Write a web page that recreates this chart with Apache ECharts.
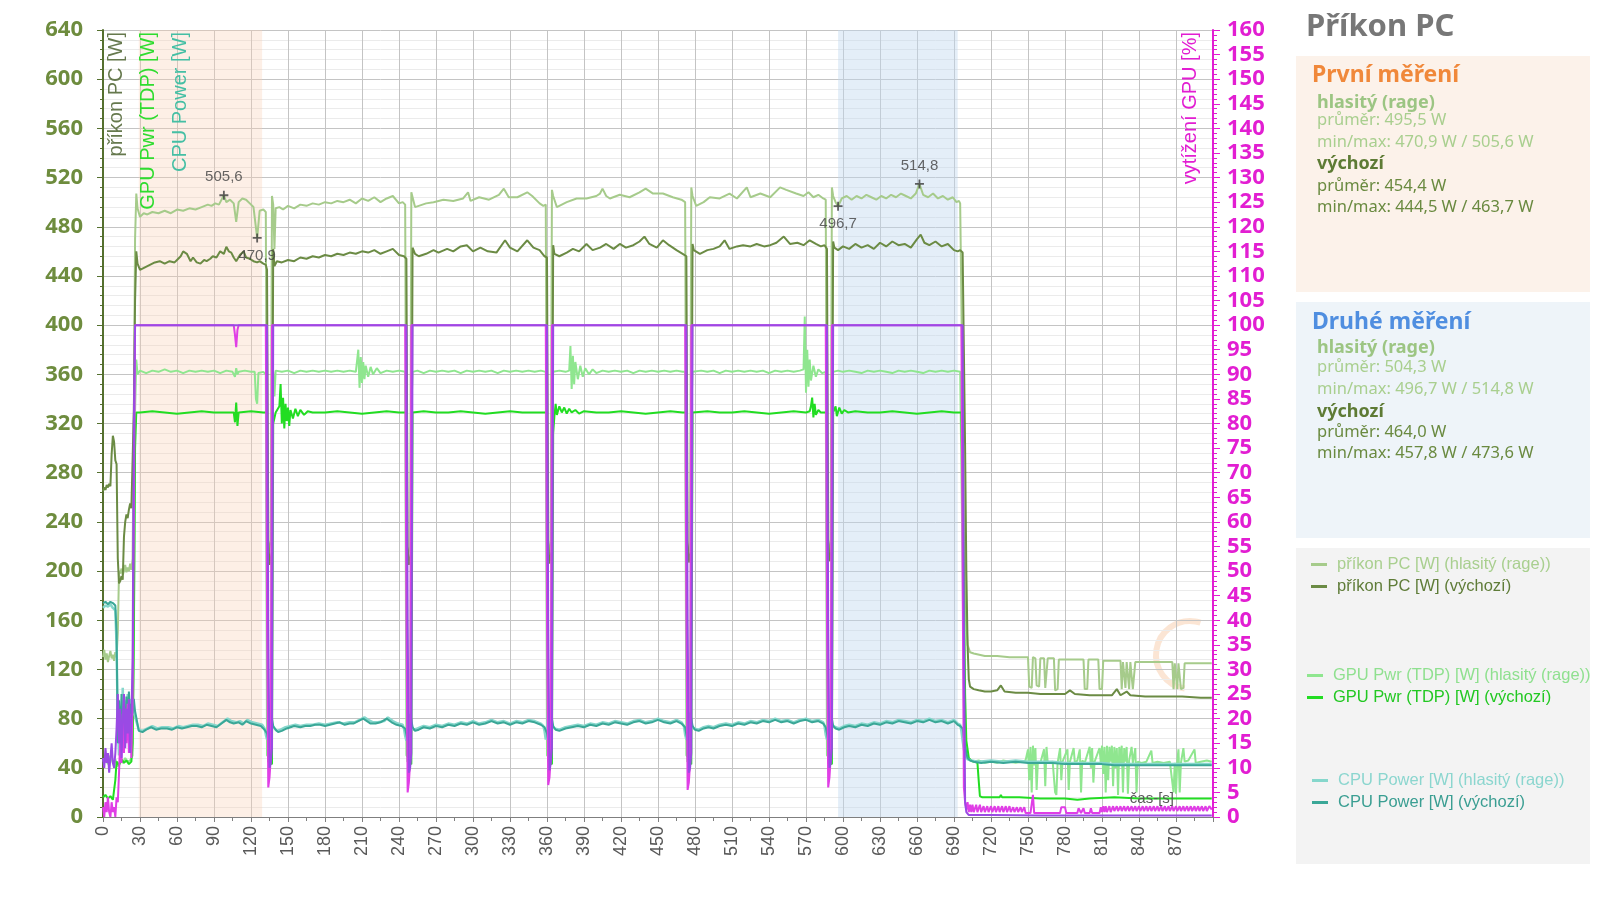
<!DOCTYPE html>
<html><head><meta charset="utf-8">
<script src="https://cdn.jsdelivr.net/npm/echarts@6/dist/echarts.min.js"></script>
<style>html,body{margin:0;padding:0;background:#fff}#c{width:1600px;height:902px}</style>
</head><body><div id="c"></div>
<script>
// ---- data (time [s], value) ----
const pcRage = [[0,130],[1,136],[2,128],[3,133],[4,126],[5,131],[6,135],[7,129],[8,132],[9,127],[10,134],[11,130],[12,150],[13,200],[14,198],[15,202],[16,197],[17,200],[18,205],[19,199],[20,203],[21,200],[22,206],[23,201],[24,210],[25,320],[26,470],[27,507],[28,495],[30,488],[33,491],[36,490],[40,492],[45,491],[50,493],[55,491],[60,494],[65,493],[70,495],[75,494],[80,496],[85,498],[88,497],[91,499],[94,498],[98,505.6],[100,500],[103,502],[106,499],[108,484],[110,500],[113,503],[116,502],[119,499],[122,496],[125,470.9],[127,493],[130,494],[132,492],[133,230],[134,215],[135,220],[136,225],[137,505],[138,498],[139,462],[140,495],[143,496],[146,494],[150,497],[155,495],[160,498],[165,497],[170,499],[175,498],[180,500],[185,499],[190,501],[195,500],[200,502],[205,499],[210,503],[215,501],[220,504],[225,500],[230,503],[235,505],[240,499],[243,500],[245,498],[246,225],[247,210],[248,215],[249,220],[250,508],[251,504],[253,496],[256,497],[262,499],[268,500],[276,502],[284,501],[292,503],[296,508],[298,501],[305,504],[313,502],[321,506],[325,511],[329,504],[336,504],[344,508],[348,505],[354,499],[357,497],[359,498],[360,230],[361,212],[362,218],[363,225],[364,510],[365,505],[368,496],[376,500],[384,503],[392,503],[400,505],[403,507],[405,511],[408,505],[411,503],[419,506],[427,504],[435,508],[440,511],[446,507],[454,507],[462,504],[469,502],[472,500],[473,228],[474,210],[475,216],[476,222],[477,512],[478,505],[481,497],[487,500],[492,504],[500,503],[508,507],[514,503],[522,512],[525,504],[533,507],[541,504],[549,512],[554,510],[562,507],[568,505],[572,508],[576,504],[580,506],[584,503],[586,502],[587,232],[588,214],[589,218],[590,225],[591,512],[592,505],[594,500],[596,496.7],[599,503],[603,505],[607,502],[611,505],[615,503],[619,506],[623,504],[627,502],[631,505],[635,503],[639,506],[643,504],[647,507],[651,505],[655,503],[659,507],[662,514.8],[665,506],[669,504],[673,507],[677,503],[681,505],[685,502],[689,504],[692,500],[694,501],[695,499],[696,420],[697,330],[698,250],[699,200],[700,160],[701,140],[703,134],[706,133],[715,131],[725,131],[735,130],[745,130],[750,130],[751,106],[753,105],[754,130],[756,129],[757,107],[759,106],[760,129],[763,129],[764,105],[765,106],[766,129],[771,129],[772,103],[774,104],[775,128],[785,128],[795,128],[796,104],[798,104],[799,128],[807,128],[808,104],[810,104],[811,127],[820,127],[825,127],[826,104],[827,126],[829,105],[830,126],[832,104],[833,126],[835,104],[837,126],[845,126],[855,126],[867,126],[868,104],[869,125],[871,104],[872,125],[874,104],[876,105],[877,125],[885,125],[899,125]];

const pcDef = [[0,265],[1,268],[2,266],[3,270],[4,268],[5,271],[6,269],[7,295],[8,310],[9,305],[10,290],[11,287],[12,210],[13,190],[14,192],[15,196],[16,193],[17,228],[18,240],[19,246],[20,243],[21,250],[22,255],[23,251],[24,290],[25,330],[26,420],[27,460],[28,450],[30,445],[34,447],[38,449],[42,451],[46,452],[50,450],[54,452],[58,451],[60,453],[63,456],[65,460],[68,458],[71,452],[73,455],[76,451],[79,450],[82,453],[84,452],[87,454],[89,456],[92,455],[95,460],[98,458],[100,463.7],[102,460],[104,459],[106,455],[108,452],[111,457],[114,460],[116,455],[119,454],[122,452],[125,451],[127,452],[130,450],[132,449],[133,445],[134,225],[135,205],[136,210],[137,215],[138,462],[139,448],[141,452],[145,451],[150,453],[155,452],[160,455],[165,454],[170,456],[175,455],[180,457],[185,456],[190,458],[195,457],[200,459],[205,458],[210,460],[215,459],[220,461],[225,458],[230,460],[235,462],[240,457],[244,456],[246,454],[247,220],[248,205],[249,210],[250,216],[251,463],[253,458],[256,456],[262,458],[268,461],[272,459],[279,462],[284,460],[290,464],[295,465],[300,460],[306,463],[312,460],[319,459],[326,469],[330,463],[336,460],[344,469],[349,463],[354,461],[358,456],[360,455],[361,222],[362,206],[363,212],[364,218],[365,465],[366,458],[370,456],[376,459],[381,462],[386,460],[392,466],[397,461],[403,463],[408,466],[414,462],[419,466],[424,463],[430,465],[435,468],[439,472],[443,466],[449,463],[454,469],[459,465],[465,461],[470,458],[473,456],[474,224],[475,207],[476,212],[477,218],[478,466],[479,461],[484,458],[490,461],[495,462],[500,464],[504,469],[508,462],[514,464],[519,465],[525,464],[530,466],[536,464],[541,465],[546,467],[552,472],[557,466],[563,467],[568,465],[573,469],[578,466],[582,464],[585,465],[587,462],[588,226],[589,208],[590,213],[591,220],[592,468],[593,463],[596,461],[600,464],[605,462],[610,466],[615,463],[620,465],[625,462],[630,467],[635,464],[640,468],[645,465],[650,466],[655,463],[660,470],[663,473.6],[666,467],[670,465],[675,468],[680,464],[685,466],[690,461],[693,460],[695,461],[697,459],[698,380],[699,300],[700,200],[701,140],[702,112],[703,106],[706,104],[710,103],[715,102],[720,102],[725,103],[728,107],[731,102],[740,101],[750,101],[760,100],[770,100],[780,100],[784,103],[788,100],[800,99],[810,99],[818,99],[822,104],[825,99],[830,102],[833,99],[845,98],[860,98],[875,98],[890,97],[899,97]];

const gpuRage = [[0,45],[2,48],[4,43],[6,50],[8,44],[10,47],[12,41],[14,46],[16,44],[18,48],[20,45],[22,46],[24,50],[25,130],[26,330],[27,372],[28,360],[30,363],[35,361],[40,363],[45,362],[50,364],[55,362],[60,363],[65,361],[70,363],[75,362],[80,363],[85,362],[90,363],[95,361],[100,363],[105,362],[107,358],[108,365],[109,360],[110,362],[115,363],[120,362],[123,362],[124,340],[125,336],[126,361],[130,362],[132,360],[133,50],[136,48],[137,330],[138,362],[139,342],[140,363],[145,362],[150,363],[155,361],[160,363],[165,362],[170,363],[175,362],[180,363],[185,362],[190,363],[195,362],[200,363],[205,362],[207,380],[208,349],[209,374],[210,353],[211,370],[212,356],[213,367],[215,358],[217,366],[219,360],[222,365],[225,361],[230,363],[235,362],[240,363],[245,362],[246,50],[249,48],[250,330],[251,362],[255,363],[260,361],[265,363],[270,362],[275,363],[280,362],[285,363],[290,361],[295,363],[300,362],[305,363],[310,362],[315,363],[320,361],[325,363],[330,362],[335,363],[340,362],[345,363],[350,362],[355,363],[359,362],[360,50],[363,48],[364,330],[365,362],[370,363],[375,362],[378,363],[379,383],[380,348],[381,375],[382,352],[383,370],[385,356],[387,367],[389,358],[391,365],[394,360],[397,364],[400,361],[405,363],[410,362],[415,363],[420,362],[425,363],[430,361],[435,363],[440,362],[445,363],[450,362],[455,363],[460,362],[465,363],[470,362],[472,362],[473,50],[476,48],[477,330],[478,362],[485,363],[490,362],[495,363],[500,361],[505,363],[510,362],[515,363],[520,362],[525,363],[530,362],[535,363],[540,361],[545,363],[550,362],[555,363],[560,362],[565,363],[568,364],[569,407],[570,345],[571,380],[572,350],[573,372],[574,355],[576,367],[578,358],[580,364],[583,361],[586,362],[587,50],[590,48],[591,330],[592,362],[596,363],[600,362],[605,363],[610,362],[615,361],[620,363],[625,362],[630,363],[635,362],[640,361],[645,363],[650,362],[655,363],[660,362],[665,361],[670,363],[675,362],[680,363],[685,362],[690,363],[695,362],[696,362],[697,200],[698,90],[699,62],[700,52],[702,47],[705,45],[710,46],[715,44],[720,45],[725,44],[730,46],[735,45],[740,44],[745,45],[748,46],[750,55],[751,30],[752,57],[753,20],[754,58],[755,42],[756,56],[757,22],[758,45],[760,44],[763,55],[764,25],[765,57],[766,44],[770,45],[772,20],[773,18],[774,44],[776,56],[777,30],[778,45],[782,55],[783,22],[784,45],[787,56],[788,44],[790,46],[792,55],[793,20],[794,46],[796,44],[800,57],[801,40],[802,56],[803,28],[804,45],[808,56],[809,44],[810,58],[811,35],[812,57],[813,20],[814,58],[815,30],[816,57],[817,45],[818,58],[819,25],[820,57],[821,40],[822,56],[823,18],[824,57],[825,44],[826,58],[827,20],[828,56],[829,45],[830,57],[831,19],[832,46],[834,57],[835,44],[837,56],[838,20],[839,45],[842,44],[846,45],[850,54],[851,44],[855,45],[860,44],[865,45],[868,20],[869,44],[870,19],[871,45],[872,55],[873,20],[874,44],[876,56],[877,45],[880,46],[885,55],[886,44],[890,45],[895,46],[899,45]];

const gpuDef = [[0,16],[2,18],[4,15],[6,17],[8,14],[10,30],[11,45],[13,42],[15,47],[17,44],[19,46],[21,43],[23,45],[24,60],[25,150],[26,300],[27,329],[30,329],[40,330],[50,329],[60,328],[70,329],[80,330],[90,329],[100,329],[106,329],[107,321],[108,337],[109,318],[110,329],[120,330],[130,329],[133,329],[134,45],[137,43],[138,320],[140,329],[143,334],[144,352],[145,320],[146,341],[147,316],[148,336],[149,322],[150,333],[151,318],[152,331],[154,324],[156,332],[158,326],[160,331],[163,327],[166,330],[170,329],[180,329],[190,330],[200,329],[210,328],[220,329],[230,330],[240,329],[246,329],[247,45],[250,43],[251,329],[260,330],[270,329],[280,329],[290,330],[300,329],[310,328],[320,329],[330,330],[340,329],[350,329],[360,329],[361,45],[364,43],[365,312],[366,326],[367,336],[368,327],[370,334],[372,329],[374,333],[376,328],[378,332],[380,329],[383,331],[386,328],[390,330],[400,329],[410,329],[420,330],[430,329],[440,328],[450,329],[460,330],[470,329],[473,329],[474,45],[477,43],[478,329],[490,330],[500,329],[510,329],[520,330],[530,329],[540,328],[550,329],[560,330],[570,329],[573,330],[574,334],[575,341],[576,325],[577,336],[578,327],[580,331],[582,329],[587,329],[588,45],[591,43],[592,329],[594,334],[595,326],[597,333],[599,328],[601,331],[604,329],[610,330],[620,329],[630,329],[640,330],[650,329],[660,328],[670,329],[680,330],[690,329],[696,329],[697,329],[698,200],[699,100],[700,62],[702,48],[704,46],[706,45],[709,44],[710,30],[711,17],[713,16],[720,16],[727,16],[728,18],[729,16],[741,16],[742,17],[743,16],[760,15],[780,15],[790,14],[800,15],[820,16],[840,15],[860,15],[880,15],[899,15]];

const cpuRage = [[0,170],[2,172],[4,171],[6,173],[8,170],[10,168],[11,140],[12,75],[13,50],[14,90],[15,58],[16,105],[17,66],[18,95],[19,72],[20,100],[21,78],[22,96],[23,82],[24,90],[25,85],[26,82],[27,78],[29,71],[32,70],[36,72],[40,74],[44,72],[48,73],[53,73],[57,72],[61,74],[65,73],[69,74],[73,75],[77,75],[81,74],[85,76],[89,75],[93,74],[97,77],[101,80],[104,78],[108,77],[111,78],[114,76],[117,79],[121,77],[125,76],[129,75],[131,72],[132,67],[133,63],[134,72],[135,86],[136,80],[137,74],[139,72],[141,70],[144,71],[148,73],[152,74],[156,75],[160,74],[165,75],[170,75],[175,76],[180,75],[185,76],[190,77],[195,76],[200,77],[204,77],[208,79],[212,81],[215,79],[219,77],[223,77],[228,78],[231,81],[235,78],[239,76],[243,75],[244,72],[245,66],[246,62],[247,72],[248,86],[249,80],[250,74],[252,71],[255,72],[260,74],[265,73],[270,75],[275,74],[280,76],[285,75],[290,77],[295,76],[300,78],[305,76],[310,77],[315,79],[320,77],[325,78],[330,76],[335,78],[340,77],[345,79],[350,78],[355,76],[357,74],[358,70],[359,63],[360,72],[361,86],[362,80],[363,75],[366,72],[370,71],[375,73],[380,74],[385,75],[390,74],[395,76],[400,75],[405,77],[410,76],[415,78],[420,77],[425,76],[430,78],[435,79],[440,77],[445,78],[450,80],[455,78],[460,77],[465,79],[469,77],[471,74],[472,67],[473,63],[474,72],[475,86],[476,80],[477,75],[479,72],[483,71],[487,73],[491,74],[495,73],[500,75],[505,76],[510,75],[515,77],[520,76],[525,78],[530,77],[535,79],[540,78],[545,80],[550,78],[555,79],[560,77],[565,79],[570,80],[575,78],[580,79],[584,77],[585,74],[586,67],[587,63],[588,72],[589,86],[590,80],[591,75],[594,73],[597,72],[601,74],[605,75],[610,74],[615,76],[620,75],[625,77],[630,76],[635,78],[640,77],[645,79],[650,78],[655,77],[660,79],[665,78],[670,80],[675,78],[680,79],[685,77],[690,79],[693,76],[695,75],[696,70],[697,62],[698,55],[699,50],[701,47],[704,46],[710,45],[720,46],[730,45],[740,46],[750,45],[760,45],[770,45],[780,44],[790,44],[800,44],[810,44],[820,43],[830,43],[840,43],[850,43],[860,43],[870,43],[880,43],[890,43],[899,43]];

const cpuDef = [[0,174],[2,175],[4,173],[6,175],[8,174],[10,172],[11,150],[12,60],[13,95],[14,55],[15,100],[16,62],[17,88],[18,70],[19,98],[20,75],[21,102],[22,80],[23,92],[24,84],[25,96],[26,86],[27,81],[29,70],[32,69],[35,71],[39,73],[43,71],[47,72],[52,72],[56,71],[60,73],[64,72],[68,73],[72,74],[76,74],[80,73],[84,75],[88,74],[92,73],[96,76],[100,79],[103,77],[106,76],[110,77],[113,75],[116,78],[120,76],[124,75],[128,74],[131,71],[133,68],[134,62],[135,70],[136,85],[137,80],[138,74],[140,71],[142,69],[145,70],[149,72],[152,73],[155,74],[160,73],[164,74],[168,74],[172,75],[176,75],[180,74],[184,75],[188,76],[192,77],[196,75],[200,76],[203,76],[207,78],[211,80],[214,78],[217,76],[221,76],[225,77],[230,80],[234,77],[238,75],[242,74],[245,72],[246,67],[247,62],[248,70],[249,84],[250,79],[251,73],[253,70],[256,71],[260,73],[265,72],[270,74],[275,73],[280,75],[285,74],[290,76],[295,75],[300,77],[305,75],[310,76],[315,78],[320,76],[325,77],[330,75],[335,77],[340,76],[345,78],[350,77],[355,75],[358,73],[360,68],[361,62],[362,70],[363,85],[364,80],[365,74],[367,71],[370,70],[375,72],[380,73],[385,74],[390,73],[395,75],[400,74],[405,76],[410,75],[415,77],[420,76],[425,75],[430,77],[435,78],[440,76],[445,77],[450,79],[455,77],[460,76],[465,78],[469,76],[472,73],[473,67],[474,62],[475,70],[476,85],[477,80],[478,74],[480,71],[483,70],[487,72],[491,73],[495,72],[500,74],[505,75],[510,74],[515,76],[520,75],[525,77],[530,76],[535,78],[540,77],[545,79],[550,77],[555,78],[560,76],[565,78],[570,79],[575,77],[580,78],[584,76],[586,73],[587,68],[588,62],[589,70],[590,85],[591,80],[592,74],[594,72],[597,71],[601,73],[605,74],[610,73],[615,75],[620,74],[625,76],[630,75],[635,77],[640,76],[645,78],[650,77],[655,76],[660,78],[665,77],[670,79],[675,77],[680,78],[685,76],[690,78],[693,75],[695,74],[697,72],[698,65],[699,58],[700,52],[701,48],[703,46],[706,45],[712,44],[720,45],[730,44],[740,45],[750,44],[760,44],[770,44],[780,43],[790,43],[800,43],[810,43],[820,42],[830,42],[840,42],[850,42],[860,42],[870,42],[880,42],[890,42],[899,42]];

// GPU utilisation [%]
const useRage = [[0,2],[1,0],[2,3],[3,1],[4,4],[5,1],[6,0],[7,3],[8,1],[9,2],[10,0],[11,4],[12,3],[13,9],[14,16],[15,11],[16,21],[17,13],[18,22],[19,15],[20,23],[21,13],[22,21],[23,12],[24,24],[25,60],[26,100],[106,100],[107,98],[108,95.5],[109,99],[110,100],[132,100],[133,40],[134,6],[135,8],[136,12],[137,100],[245,100],[246,40],[247,5],[248,7],[249,11],[250,100],[359,100],[360,40],[361,6.5],[362,8],[363,12],[364,100],[472,100],[473,40],[474,5.5],[475,7],[476,11],[477,100],[586,100],[587,40],[588,6],[589,8],[590,12],[591,100],[696,100],[697,50],[698,6],[699,3],[700,1.5],[701,3],[702,1],[703,2.5],[704,1],[705,2.5],[706,1],[708,2.5],[709,1],[711,2.5],[712,1],[714,2.2],[715,1],[717,2.2],[718,1],[720,2.2],[721,1],[723,2.2],[724,1],[726,2.2],[727,1],[729,2.2],[730,1],[732,2.2],[733,1],[735,2.2],[736,1],[738,2],[739,1],[741,2],[742,1],[744,2],[745,1],[747,2],[748,0.8],[752,0.8],[753,1],[754,4.5],[755,0.8],[760,0.8],[770,0.8],[776,0.8],[777,2],[780,2],[781,0.8],[790,0.8],[791,1.8],[793,0.8],[795,1.8],[796,0.8],[800,0.8],[801,1.8],[802,0.8],[808,0.8],[809,2],[810,1],[811,2.2],[812,1],[813,2.2],[814,1],[816,2.2],[817,1],[819,2.2],[820,1.2],[822,2.2],[823,1.2],[825,2.2],[826,1.2],[828,2.2],[829,1.2],[831,2.2],[832,1.2],[834,2.2],[835,1.2],[837,2.2],[838,1.2],[840,2.2],[841,1.2],[843,2.2],[844,1.2],[846,2.2],[847,1.2],[849,2.2],[850,1.2],[852,2.2],[853,1.2],[855,2.2],[856,1.2],[858,2.2],[859,1.2],[861,2.2],[862,1.2],[864,2.2],[865,1.2],[867,2.2],[868,1.2],[870,2.2],[871,1.2],[873,2.2],[874,1.2],[876,2.2],[877,1.2],[879,2.2],[880,1.2],[882,2.2],[883,1.2],[885,2.2],[886,1.2],[888,2.2],[889,1.2],[891,2.2],[892,1.2],[894,2.2],[895,1.2],[897,2.2],[899,1.5]];

const useDef = [[0,12],[1,10],[2,14],[3,11],[4,13],[5,9],[6,12],[7,15],[8,11],[9,10],[10,13],[11,18],[12,25],[13,15],[14,22],[15,12],[16,20],[17,25],[18,14],[19,22],[20,17],[21,24],[22,13],[23,20],[24,32],[25,80],[26,100],[133,100],[134,40],[135,10],[136,11],[137,14],[138,100],[246,100],[247,40],[248,9],[249,10],[250,13],[251,100],[360,100],[361,40],[362,9.5],[363,11],[364,14],[365,100],[473,100],[474,40],[475,9],[476,10],[477,13],[478,100],[587,100],[588,40],[589,10],[590,11],[591,14],[592,100],[697,100],[698,40],[699,3],[700,1],[702,0.4],[720,0.4],[760,0.3],[800,0.3],[840,0.3],[899,0.3]];

// measurement windows [s]
const bandStart = [29, 596];
const bandEnd = [129, 693];

// min / max annotations of "příkon PC (hlasitý)"
const extremeT = [98, 125, 596, 662];
const extremeV = [505.6, 470.9, 496.7, 514.8];

// axis ranges
const xMax = 900, xStep = 30;
const yMax = 640, yStep = 40;
const y2Max = 160, y2Step = 5;

const names = {
  pcRage: 'příkon PC [W] (hlasitý (rage))',
  pcDef: 'příkon PC [W] (výchozí)',
  gpuRage: 'GPU Pwr (TDP) [W] (hlasitý (rage))',
  gpuDef: 'GPU Pwr (TDP) [W] (výchozí)',
  cpuRage: 'CPU Power [W] (hlasitý (rage))',
  cpuDef: 'CPU Power [W] (výchozí)'
};

// ---- styles ----
const C = {
  pcRage: '#a6cb8b', pcDef: '#6b8b44',
  gpuRage: '#8fe68f', gpuDef: '#22dd22',
  cpuRage: '#86d7cc', cpuDef: '#3aa797',
  useRage: '#e03ee6', useDef: '#9a4ae4',
  magenta: '#e21ed2', olive: '#6e8c3e'
};
const bandColors = ['rgba(248,205,178,0.32)', 'rgba(190,214,238,0.42)'];
const extremeLabelPos = ['top', 'bottom', 'bottom', 'top'];

function line(name, data, color, width, yIdx, extra) {
  return Object.assign({
    name: name, type: 'line', data: data, yAxisIndex: yIdx || 0,
    showSymbol: false, symbol: 'none', silent: true, animation: false,
    lineStyle: { color: color, width: width }, itemStyle: { color: color }
  }, extra || {});
}

const chart = echarts.init(document.getElementById('c'), null, { renderer: 'canvas' });
const LS = 'Liberation Sans, Arial, sans-serif';
const NS = 'Noto Sans, sans-serif';

const legendBase = {
  orient: 'vertical', icon: 'rect', itemWidth: 16, itemHeight: 3, itemGap: 5,
  selectedMode: false, padding: 0,
  textStyle: { fontSize: 16.5, fontFamily: LS, lineHeight: 17, padding: [0, 0, 0, 5] }
};

function panelText(x, y, text, font, color) {
  return { type: 'text', x: x, y: y, silent: true, z: 50,
    style: { text: text, font: font, fill: color, align: 'left', verticalAlign: 'middle' } };
}
function axisName(x, text, color) {
  return { type: 'text', x: x, y: 32, rotation: Math.PI / 2, silent: true, z: 100,
    style: { text: text, font: '20px ' + LS, fill: color, align: 'right', verticalAlign: 'middle' } };
}

const option = {
  backgroundColor: '#ffffff',
  animation: false,
  grid: { left: 103, right: 387, top: 30, bottom: 85, containLabel: false, outerBoundsMode: 'none' },
  xAxis: {
    type: 'value', min: 0, max: xMax, interval: xStep,
    axisLine: { show: true, lineStyle: { color: '#7f7f7f', width: 1 } },
    axisTick: { show: true, length: 5, lineStyle: { color: '#7f7f7f' } },
    minorTick: { show: true, splitNumber: 2, length: 4, lineStyle: { color: '#7f7f7f' } },
    axisLabel: { rotate: 90, color: '#595959', fontSize: 18, fontFamily: LS, margin: 9,
      formatter: function (v) { return v >= xMax ? '' : String(v); } },
    splitLine: { show: true, lineStyle: { color: '#c4c4c4', width: 1 } }
  },
  yAxis: [{
    type: 'value', min: 0, max: yMax, interval: yStep, position: 'left',
    axisLine: { show: true, lineStyle: { color: '#55702f', width: 2 } },
    axisTick: { show: true, length: 6, lineStyle: { color: '#55702f' } },
    minorTick: { show: true, splitNumber: 5, length: 3, lineStyle: { color: '#55702f' } },
    axisLabel: { color: C.olive, fontSize: 22, fontWeight: 'bold', fontFamily: NS, margin: 20 },
    splitLine: { show: true, lineStyle: { color: '#c4c4c4' } },
    minorSplitLine: { show: true, lineStyle: { color: '#ebebeb' } }
  }, {
    type: 'value', min: 0, max: y2Max, interval: y2Step, position: 'right',
    axisLine: { show: true, lineStyle: { color: C.magenta, width: 2 } },
    axisTick: { show: true, length: 7, lineStyle: { color: C.magenta } },
    minorTick: { show: true, splitNumber: 5, length: 4, lineStyle: { color: C.magenta } },
    axisLabel: { color: C.magenta, fontSize: 22, fontWeight: 'bold', fontFamily: NS, margin: 14 },
    splitLine: { show: false }
  }],
  legend: [
    Object.assign({}, legendBase, { left: 1311, top: 556,
      data: [{ name: names.pcRage, textStyle: { color: '#a9cf8f' } }, { name: names.pcDef, textStyle: { color: '#5f7c38' } }] }),
    Object.assign({}, legendBase, { left: 1307, top: 667,
      data: [{ name: names.gpuRage, textStyle: { color: '#8fe08f' } }, { name: names.gpuDef, textStyle: { color: '#22c822' } }] }),
    Object.assign({}, legendBase, { left: 1312, top: 772,
      data: [{ name: names.cpuRage, textStyle: { color: '#8bd6cf' } }, { name: names.cpuDef, textStyle: { color: '#3a9e92' } }] })
  ],
  series: [
    line(names.pcRage, pcRage, C.pcRage, 2, 0, {
      markArea: { silent: true, z: 1, data: bandStart.map(function (s, i) {
        return [{ xAxis: s, itemStyle: { color: bandColors[i] } }, { xAxis: bandEnd[i] }];
      }) }
    }),
    line(names.pcDef, pcDef, C.pcDef, 2),
    line(names.gpuRage, gpuRage, C.gpuRage, 2),
    line(names.gpuDef, gpuDef, C.gpuDef, 2),
    line(names.cpuRage, cpuRage, C.cpuRage, 2.5),
    line(names.cpuDef, cpuDef, C.cpuDef, 2),
    line('vytížení GPU (hlasitý)', useRage, C.useRage, 2, 1),
    line('vytížení GPU (výchozí)', useDef, C.useDef, 2, 1),
    {
      name: 'extremes', type: 'scatter', yAxisIndex: 0, silent: true, z: 10,
      symbol: 'path://M4,0 L6,0 L6,4 L10,4 L10,6 L6,6 L6,10 L4,10 L4,6 L0,6 L0,4 L4,4 Z',
      symbolSize: 9, itemStyle: { color: '#3a3a3a' },
      label: { show: true, color: '#404040', fontSize: 15, fontFamily: LS, distance: 6,
        formatter: function (p) { return p.value[1].toFixed(1).replace('.', ','); } },
      data: extremeT.map(function (t, i) {
        return { value: [t, extremeV[i]], label: { position: extremeLabelPos[i] } };
      })
    }
  ],
  graphic: [
    axisName(116, 'příkon PC [W]', '#66794e'),
    axisName(148, 'GPU Pwr (TDP) [W]', '#2fdc2f'),
    axisName(180, 'CPU Power [W]', '#45bfa4'),
    axisName(1190, 'vytížení GPU [%]', C.magenta),
    { type: 'text', x: 1174, y: 799, silent: true, z: 100,
      style: { text: 'čas-[s]', font: '15px ' + LS, fill: '#595959', align: 'right', verticalAlign: 'middle' } },
    // faint watermark ring
    { type: 'arc', silent: true, shape: { cx: 1190, cy: 655, r: 34, startAngle: Math.PI * 0.55, endAngle: Math.PI * 1.6 },
      style: { stroke: 'rgba(240,160,100,0.28)', lineWidth: 6, fill: null } },
    // right side panels
    { type: 'text', x: 1306, y: 27, silent: true,
      style: { text: 'Příkon PC', font: 'bold 31px ' + NS, fill: '#777777', align: 'left', verticalAlign: 'middle' } },
    { type: 'rect', silent: true, shape: { x: 1296, y: 56, width: 294, height: 236 }, style: { fill: '#fcf2ea' } },
    { type: 'rect', silent: true, shape: { x: 1296, y: 302, width: 294, height: 236 }, style: { fill: '#eef4f9' } },
    { type: 'rect', silent: true, shape: { x: 1296, y: 548, width: 294, height: 316 }, style: { fill: '#f3f3f3' }, z: -1 },
    panelText(1312, 75, 'První měření', 'bold 23px ' + NS, '#f0883a'),
    panelText(1317, 103, 'hlasitý (rage)', 'bold 18px ' + NS, '#9cc583'),
    panelText(1317, 120, 'průměr: 495,5 W', '16.5px ' + NS, '#a9cf8f'),
    panelText(1317, 142, 'min/max: 470,9 W / 505,6 W', '16.5px ' + NS, '#a9cf8f'),
    panelText(1317, 164, 'výchozí', 'bold 18px ' + NS, '#5e7b35'),
    panelText(1317, 186, 'průměr: 454,4 W', '16.5px ' + NS, '#6a8a40'),
    panelText(1317, 207, 'min/max: 444,5 W / 463,7 W', '16.5px ' + NS, '#6a8a40'),
    panelText(1312, 322, 'Druhé měření', 'bold 23px ' + NS, '#4f8ee0'),
    panelText(1317, 348, 'hlasitý (rage)', 'bold 18px ' + NS, '#9cc583'),
    panelText(1317, 367, 'průměr: 504,3 W', '16.5px ' + NS, '#a9cf8f'),
    panelText(1317, 389, 'min/max: 496,7 W / 514,8 W', '16.5px ' + NS, '#a9cf8f'),
    panelText(1317, 412, 'výchozí', 'bold 18px ' + NS, '#5e7b35'),
    panelText(1317, 432, 'průměr: 464,0 W', '16.5px ' + NS, '#6a8a40'),
    panelText(1317, 453, 'min/max: 457,8 W / 473,6 W', '16.5px ' + NS, '#6a8a40')
  ]
};
chart.setOption(option);
</script>
</body></html>
